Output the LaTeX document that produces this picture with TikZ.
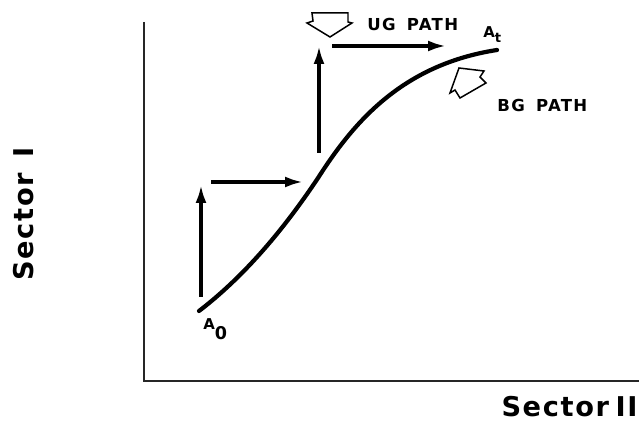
\documentclass[tikz,border=0pt]{standalone}
\usepackage{fontspec}
\setmainfont{DejaVu Sans}
\newfontfamily\axisfont[LetterSpace=6,WordSpace=0.6]{DejaVu Sans}
\newfontfamily\pathfont[LetterSpace=8,WordSpace=1.6]{DejaVu Sans}
\usetikzlibrary{arrows.meta,positioning}
\tikzset{
  axisline/.style={line width=0.7pt, black!85},
  growthcurve/.style={line width=2.4pt, line cap=round},
  arrow/.style={-{Latex[length=3.6mm,width=2.2mm]}, line width=1.9pt},
  hollow/.style={line width=0.85pt, line join=miter, fill=white},
  pathlabel/.style={font=\pathfont\bfseries\fontsize{9.4}{11}\selectfont, inner sep=0pt},
  axislabel/.style={font=\axisfont\bfseries\fontsize{15.5}{18}\selectfont, inner sep=0pt},
  pointlabel/.style={font=\bfseries\fontsize{8.5}{10}\selectfont, inner sep=0pt}
}

\begin{document}
\begin{tikzpicture}[x=0.02cm, y=-0.02cm]
  \useasboundingbox (0,0) rectangle (640,421);
  % axes
  \coordinate (ytop) at (144,22);
  \coordinate (origin) at (144,381);
  \coordinate (xend) at (639,381);
  \draw[axisline] (ytop) -- (origin) -- (xend);
  % curve
  \coordinate (start) at (199,311);
  \coordinate (middle) at (318,178);
  \coordinate (finish) at (497,50);
  \draw[growthcurve] (start) .. controls (250,272) and (290,220) .. (middle)
    .. controls (352,125) and (400,65) .. (finish);
  % stepped path
  \coordinate (up1a) at (201,297);
  \coordinate (up1b) at (201,185);
  \coordinate (right1a) at (211,182);
  \coordinate (right1b) at (303,182);
  \coordinate (up2a) at (319,153);
  \coordinate (up2b) at (319,46);
  \coordinate (right2a) at (332,46);
  \coordinate (right2b) at (446,46);
  \draw[arrow] (up1a) -- (up1b);
  \draw[arrow] (right1a) -- (right1b);
  \draw[arrow] (up2a) -- (up2b);
  \draw[arrow] (right2a) -- (right2b);
  % hollow pointers
  \draw[hollow] (312,13) -- (348,13) -- (348,22) -- (352,23) -- (330,37) -- (307,23) -- (313,21) -- cycle;
  \draw[hollow] (459,68) -- (484,71) -- (480,77) -- (486,83) -- (460,98) -- (455,90) -- (450,93) -- cycle;
  % labels
  \node[pathlabel, anchor=base west] (ug) at (367,31) {UG PATH};
  \node[pathlabel, anchor=base west] (bg) at (497,112) {BG PATH};
  \node[pointlabel, anchor=base west] (at) at (483,38) {A\raisebox{-2.8pt}{\fontsize{7.5}{9}\selectfont t}};
  \node[pointlabel, anchor=base west] (a0) at (203,330) {A\raisebox{-5.6pt}{\fontsize{10}{11}\selectfont 0}};
  \node[axislabel, rotate=90, anchor=base east] (sector1) at (33,147) {Sector \hspace{5pt}I};
  \node[axislabel, anchor=base east] (sector2) at (638,417) {Sector II};
\end{tikzpicture}
\end{document}
